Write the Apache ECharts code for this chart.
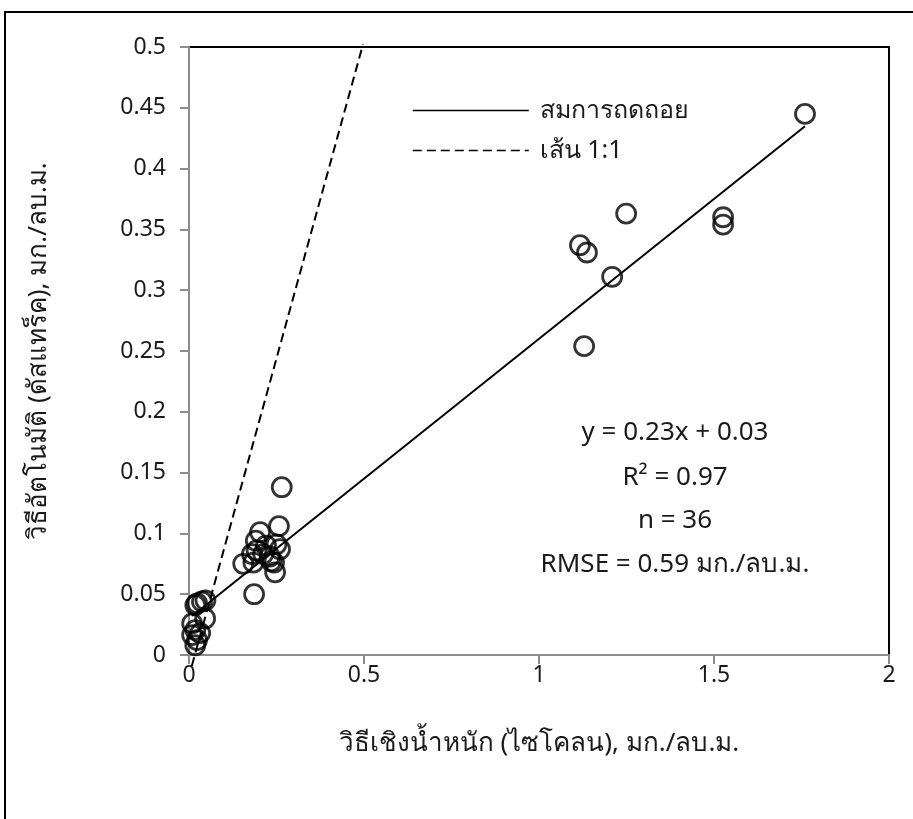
<!DOCTYPE html>
<html>
<head>
<meta charset="utf-8">
<script src="https://cdn.jsdelivr.net/npm/echarts@6/dist/echarts.min.js"></script>
<style>
  html, body { margin: 0; padding: 0; background: #fff; }
  #chart { width: 913px; height: 819px; }
</style>
</head>
<body>
<div id="chart"></div>
<script>
// Dust concentration: gravimetric (cyclone) vs photometric (DustTrak), mg/m3
const gravimetric = [
  1.76, 1.117, 1.137, 1.249, 1.209, 1.129, 1.526, 1.526,
  0.265, 0.186,
  0.203, 0.257, 0.191, 0.250, 0.193, 0.212, 0.155, 0.184, 0.243, 0.246,
  0.231, 0.260, 0.220, 0.180, 0.235,
  0.023, 0.037, 0.047, 0.018, 0.046, 0.009, 0.018, 0.032, 0.023, 0.009, 0.018
];
const photometric = [
  0.445, 0.337, 0.331, 0.363, 0.311, 0.254, 0.360, 0.354,
  0.138, 0.050,
  0.101, 0.106, 0.094, 0.091, 0.086, 0.083, 0.075, 0.076, 0.076, 0.068,
  0.081, 0.087, 0.090, 0.083, 0.077,
  0.0425, 0.044, 0.045, 0.041, 0.030, 0.026, 0.0205, 0.018, 0.0123, 0.0164, 0.008
];

// Regression y = 0.23x + 0.03 over the measured range
const slope = 0.23;
const intercept = 0.03;
const fitX = [0.009, 1.76];

// 1:1 reference line end points
const oneToOneX = [0.008, 0.497];
const oneToOneY = [-0.009, 0.502];

const xTicks = [0, 0.5, 1, 1.5, 2];
const yTicks = [0, 0.05, 0.1, 0.15, 0.2, 0.25, 0.3, 0.35, 0.4, 0.45, 0.5];

const legendNames = ['สมการถดถอย', 'เส้น 1:1'];
const xTitle = 'วิธีเชิงน้ำหนัก (ไซโคลน), มก./ลบ.ม.';
const yTitle = 'วิธีอัตโนมัติ (ดัสแทร็ค), มก./ลบ.ม.';
const statLines = ['y = 0.23x + 0.03', 'R² = 0.97', 'n = 36', 'RMSE = 0.59 มก./ลบ.ม.'];

const FONT = '"Noto Sans", sans-serif';
const INK = '#1a1a1a';

const points = gravimetric.map((x, i) => [x, photometric[i]]);
const fitLine = fitX.map(x => [x, slope * x + intercept]);
const oneToOne = oneToOneX.map((x, i) => [x, oneToOneY[i]]);

const chart = echarts.init(document.getElementById('chart'), null, { renderer: 'canvas' });

const statY = [433, 478, 521, 565];

chart.setOption({
  animation: false,
  backgroundColor: '#fff',
  grid: {
    left: 189, top: 47, right: 24, bottom: 164,
    show: true, borderColor: '#000', borderWidth: 2, backgroundColor: 'transparent'
  },
  xAxis: {
    type: 'value', min: 0, max: 2, interval: 0.5,
    axisLine: { show: true, onZero: false, lineStyle: { color: '#8c8c8c', width: 2 } },
    axisTick: { show: true, inside: false, length: 9, lineStyle: { color: '#8c8c8c', width: 2 } },
    splitLine: { show: false },
    axisLabel: {
      color: INK, fontSize: 23, fontFamily: FONT, margin: 9,
      formatter: v => (xTicks.includes(v) ? String(v) : '')
    },
    name: xTitle, nameLocation: 'middle', nameGap: 76,
    nameTextStyle: { color: INK, fontSize: 26, fontFamily: FONT }
  },
  yAxis: {
    type: 'value', min: 0, max: 0.5, interval: 0.05,
    axisLine: { show: true, onZero: false, lineStyle: { color: '#8c8c8c', width: 2 } },
    axisTick: { show: true, inside: false, length: 9, lineStyle: { color: '#8c8c8c', width: 2 } },
    splitLine: { show: false },
    axisLabel: {
      color: INK, fontSize: 23, fontFamily: FONT, margin: 23,
      formatter: v => {
        const t = yTicks.find(k => Math.abs(k - v) < 1e-9);
        return t === undefined ? '' : String(t);
      }
    },
    name: yTitle, nameLocation: 'middle', nameGap: 137,
    nameTextStyle: { color: INK, fontSize: 26, fontFamily: FONT }
  },
  legend: {
    data: legendNames,
    orient: 'vertical',
    left: 407, top: 93,
    itemWidth: 116, itemHeight: 28, itemGap: 15,
    itemStyle: { opacity: 0 },
    lineStyle: { width: 1.6 },
    textStyle: { color: INK, fontSize: 25, fontFamily: FONT, padding: [0, 0, 0, 6] },
    selectedMode: false
  },
  series: [
    {
      name: 'observed',
      type: 'scatter',
      data: points,
      symbol: 'circle',
      symbolSize: 19,
      itemStyle: { color: 'transparent', borderColor: '#000', borderWidth: 2.8 },
      z: 3
    },
    {
      name: legendNames[0],
      type: 'line',
      data: fitLine,
      symbol: 'none',
      lineStyle: { color: '#000', width: 2, type: 'solid' },
      itemStyle: { color: '#000' },
      z: 2
    },
    {
      name: legendNames[1],
      type: 'line',
      data: oneToOne,
      symbol: 'none',
      clip: false,
      lineStyle: { color: '#000', width: 2, type: [9, 5] },
      itemStyle: { color: '#000' },
      z: 2
    }
  ],
  graphic: [
    {
      type: 'rect', silent: true, z: 0,
      shape: { x: 5, y: 12, width: 920, height: 820 },
      style: { fill: 'none', stroke: '#000', lineWidth: 2 }
    },
    ...statLines.map((t, i) => ({
      type: 'text', silent: true,
      x: 675, y: statY[i],
      style: {
        text: t, fill: INK, fontSize: 26, fontFamily: FONT,
        textAlign: 'center', textVerticalAlign: 'middle'
      }
    }))
  ]
});
</script>
</body>
</html>
